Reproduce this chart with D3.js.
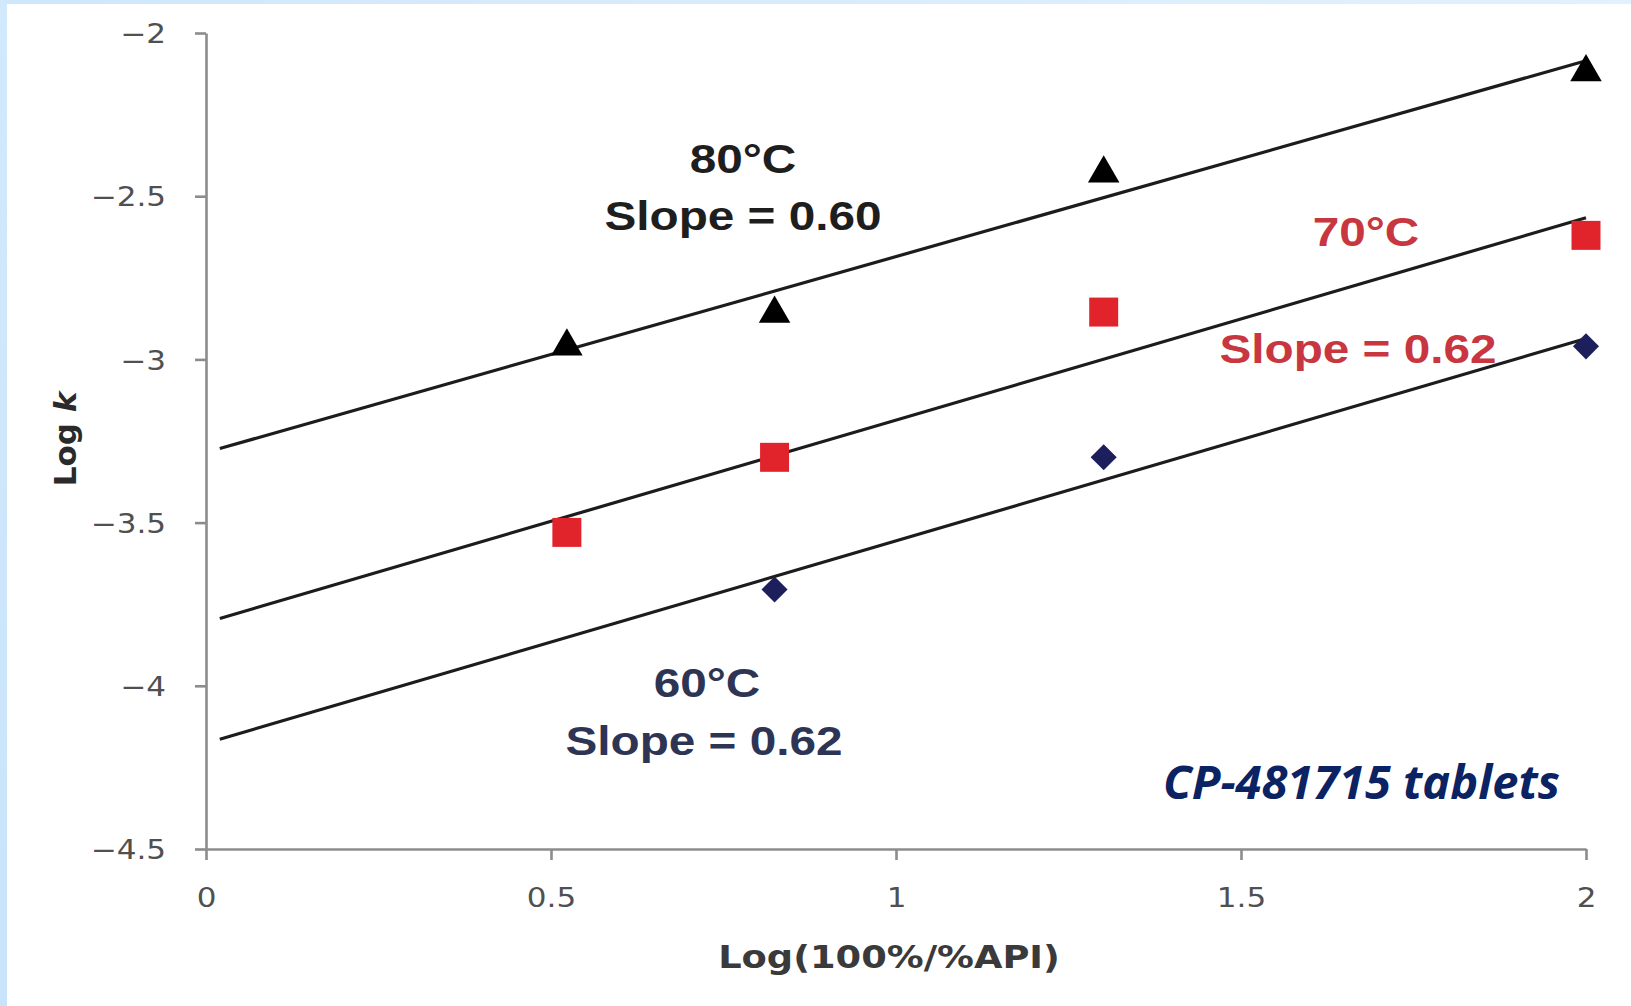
<!DOCTYPE html>
<html>
<head>
<meta charset="utf-8">
<script src="https://cdn.jsdelivr.net/npm/d3@7"></script>
<style>
  html, body { margin: 0; padding: 0; background: #fff; }
  svg { display: block; }
</style>
</head>
<body>
<svg id="chart" width="1631" height="1006"></svg>
<script>
// ---------- data ----------
const xValues = [0.523, 0.824, 1.301, 2.0];           // Log(100%/%API)
const logK80 = [-2.96, -2.86, -2.43, -2.12];
const logK70 = [-3.53, -3.30, -2.855, -2.62];
const logK60 = [null, -3.705, -3.30, -2.96];
const seriesNames = ["80°C", "70°C", "60°C"];
const slopes = [0.60, 0.62, 0.62];
const intercepts = [-3.285, -3.806, -4.176];
const fitRange = [0.02, 2];
const xTicks = [0, 0.5, 1, 1.5, 2];
const xTickLabels = ["0", "0.5", "1", "1.5", "2"];
const yTicks = [-2, -2.5, -3, -3.5, -4, -4.5];
const yTickLabels = ["\u22122", "\u22122.5", "\u22123", "\u22123.5", "\u22124", "\u22124.5"];
const slopeLabels = ["Slope = 0.60", "Slope = 0.62", "Slope = 0.62"];

// ---------- layout ----------
const svg = d3.select("#chart");
const W = 1631, H = 1006;
const plotLeft = 206, plotRight = 1586, plotTop = 33, plotBottom = 849;
const x = d3.scaleLinear().domain([0, 2]).range([plotLeft, plotRight]);
const y = d3.scaleLinear().domain([-4.5, -2]).range([plotBottom, plotTop]);
const stretch = 1.15;

// background frame
const defs = svg.append("defs");
const g1 = defs.append("linearGradient").attr("id", "topband").attr("x1", 0).attr("x2", 1);
g1.append("stop").attr("offset", 0).attr("stop-color", "#cfe7fb");
g1.append("stop").attr("offset", 1).attr("stop-color", "#e2f1fc");
const g2 = defs.append("linearGradient").attr("id", "leftband").attr("x1", 0).attr("x2", 0).attr("y1", 0).attr("y2", 1);
g2.append("stop").attr("offset", 0).attr("stop-color", "#d2e9fb");
g2.append("stop").attr("offset", 1).attr("stop-color", "#c8e3fa");
svg.append("rect").attr("width", W).attr("height", H).attr("fill", "#fff");
svg.append("rect").attr("x", 0).attr("y", 0).attr("width", W).attr("height", 4).attr("fill", "url(#topband)");
svg.append("rect").attr("x", 0).attr("y", 0).attr("width", 7).attr("height", H).attr("fill", "url(#leftband)");

// ---------- axes ----------
const axisColor = "#8c8c8c";
const gx = svg.append("g").attr("transform", `translate(0,${plotBottom})`)
  .call(d3.axisBottom(x).tickValues(xTicks).tickFormat((d, i) => xTickLabels[i]).tickSize(11).tickSizeOuter(0));
const gy = svg.append("g").attr("transform", `translate(${plotLeft},0)`)
  .call(d3.axisLeft(y).tickValues(yTicks).tickFormat((d, i) => yTickLabels[i]).tickSize(11).tickSizeOuter(0));
[gx, gy].forEach(g => {
  g.select(".domain").attr("stroke", axisColor).attr("stroke-width", 2.6);
  g.selectAll(".tick line").attr("stroke", axisColor).attr("stroke-width", 2.6);
  g.selectAll(".tick text")
    .attr("fill", "#505050").attr("font-family", "DejaVu Sans").attr("font-size", 27);
});
gx.selectAll(".tick text").attr("y", 0).attr("dy", 0)
  .attr("transform", `translate(0,58) scale(${stretch},1)`);
gy.selectAll(".tick text").attr("x", 0).attr("dy", "0.36em")
  .attr("transform", `translate(-40,0) scale(${stretch},1)`);

// axis titles
svg.append("text")
  .attr("transform", `translate(889,968) scale(1.15,1)`)
  .attr("text-anchor", "middle")
  .attr("font-family", "DejaVu Sans").attr("font-weight", "bold").attr("font-size", 32)
  .attr("fill", "#3a3a3a")
  .text("Log(100%/%API)");
const yt = svg.append("text")
  .attr("transform", `translate(76,439) rotate(-90)`)
  .attr("text-anchor", "middle")
  .attr("font-family", "DejaVu Sans").attr("font-weight", "bold").attr("font-size", 31)
  .attr("fill", "#2a2a2a");
yt.append("tspan").text("Log ");
yt.append("tspan").attr("font-style", "italic").text("k");

// ---------- fitted lines ----------
const lineGen = d3.line().x(d => x(d[0])).y(d => y(d[1]));
slopes.forEach((s, i) => {
  const pts = fitRange.map(v => [v, intercepts[i] + s * v]);
  svg.append("path").attr("d", lineGen(pts))
    .attr("fill", "none").attr("stroke", "#1c1c1c").attr("stroke-width", 3.2);
});

// ---------- markers ----------
const series = [
  { vals: logK80, sym: d3.symbolTriangle, size: 430, color: "#000000", rot: 0 },
  { vals: logK70, sym: d3.symbolSquare, size: 840, color: "#e1232b", rot: 0 },
  { vals: logK60, sym: d3.symbolSquare, size: 340, color: "#1c1f5c", rot: 45 }
];
series.forEach(s => {
  const pts = xValues.map((xv, j) => [xv, s.vals[j]]).filter(p => p[1] !== null);
  svg.append("g").selectAll("path").data(pts).join("path")
    .attr("d", d3.symbol().type(s.sym).size(s.size))
    .attr("transform", p => `translate(${x(p[0])},${y(p[1])}) rotate(${s.rot})`)
    .attr("fill", s.color);
});

// ---------- annotations ----------
const annotations = [
  { t: seriesNames[0], cx: 743, by: 173, c: "#1e1e1e" },
  { t: slopeLabels[0], cx: 743, by: 230, c: "#1e1e1e" },
  { t: seriesNames[1], cx: 1366, by: 246, c: "#c8363f" },
  { t: slopeLabels[1], cx: 1358, by: 363, c: "#c8363f" },
  { t: seriesNames[2], cx: 707, by: 697, c: "#2e3554" },
  { t: slopeLabels[2], cx: 704, by: 755, c: "#2e3554" }
];
svg.append("g").selectAll("text").data(annotations).join("text")
  .attr("transform", d => `translate(${d.cx},${d.by}) scale(${stretch},1)`)
  .attr("text-anchor", "middle")
  .attr("font-family", "Liberation Sans, Arial, sans-serif")
  .attr("font-weight", "bold").attr("font-size", 41.5)
  .attr("fill", d => d.c)
  .text(d => d.t);

svg.append("text")
  .attr("x", 1163).attr("y", 799)
  .attr("font-family", "Open Sans").attr("font-weight", "bold").attr("font-style", "italic")
  .attr("font-size", 47).attr("fill", "#0b2263")
  .text("CP-481715 tablets");
</script>
</body>
</html>
